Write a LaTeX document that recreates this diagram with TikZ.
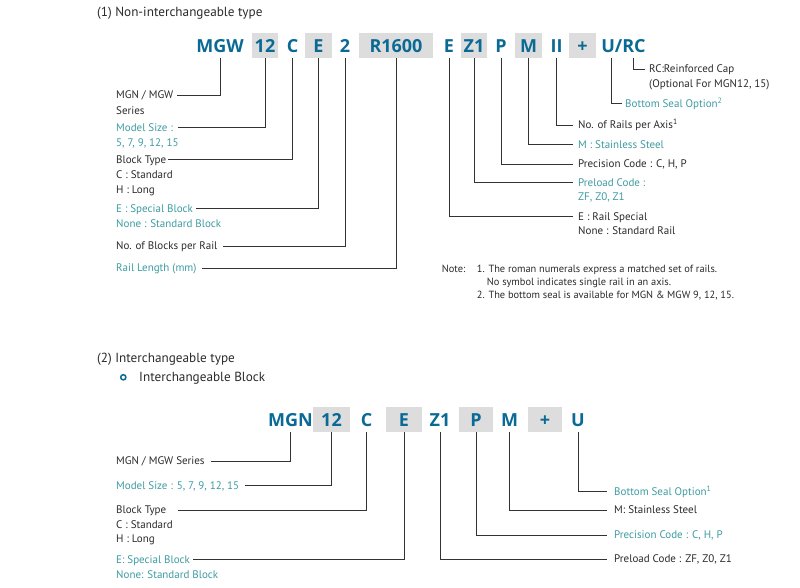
\documentclass[tikz,border=0pt]{standalone}
\usepackage{fontspec}
\setmainfont{PT Sans}
\newfontfamily\codefont{Open Sans}
\definecolor{codeblue}{HTML}{0B6A95}
\definecolor{tealtxt}{HTML}{3E9CA2}
\definecolor{boxgray}{HTML}{DDDDDD}
\definecolor{txt}{HTML}{2B2B2B}
\definecolor{ln}{HTML}{333333}
\tikzset{
  code/.style={inner sep=0pt, minimum height=25pt, text height=13pt, text depth=0pt,
    font=\codefont\fontsize{18}{18}\selectfont\bfseries, text=codeblue, align=center},
  cbox/.style={code, fill=boxgray},
  lbl/.style={anchor=west, inner sep=0pt, text height=7.8pt, text depth=0pt,
    font=\fontsize{11}{13}\selectfont, text=txt},
  tlbl/.style={lbl, text=tealtxt},
  note/.style={lbl, font=\fontsize{10.4}{12}\selectfont},
  head/.style={anchor=west, inner sep=0pt, text height=9.2pt, text depth=0pt,
    font=\fontsize{13.2}{15}\selectfont, text=txt},
  conn/.style={draw=ln, line width=0.8pt},
}
\begin{document}
\begin{tikzpicture}[x=1pt,y=-1pt]
\useasboundingbox (0,0) rectangle (800,587);
\fill[white] (0,0) rectangle (800,587);

% ---------- Section 1 ----------
\node[head] (h1) at (97,12) {(1) Non-interchangeable type};

\node[code] (mgw) at (220,45.5) {MGW};
\node[cbox, minimum width=26pt] (a12) at (265,45.5) {12};
\node[code] (ac) at (292.7,45.5) {C};
\node[cbox, minimum width=27pt] (ae) at (318.5,45.5) {E};
\node[code] (a2) at (345,45.5) {2};
\node[cbox, minimum width=74pt] (ar) at (396,45.5) {R1600};
\node[code] (aer) at (449,45.5) {E};
\node[cbox, minimum width=26pt] (az) at (474,45.5) {Z1};
\node[code] (ap) at (501,45.5) {P};
\node[cbox, minimum width=27pt] (am) at (528.5,45.5) {M};
\node[code] (aii) at (556.7,45.5) {II};
\node[cbox, minimum width=27pt] (aplus) at (582.5,45.5) {+};
\node[code] (aurc) at (623.5,45.5) {U/RC};

% left labels
\node[lbl] (l1a) at (116,95) {MGN / MGW};
\node[lbl] (l1b) at (116,110.7) {Series};
\node[tlbl] (l2a) at (116,127.7) {Model Size :};
\node[tlbl] (l2b) at (116,142.3) {5, 7, 9, 12, 15};
\node[lbl] (l3a) at (116,159.5) {Block Type};
\node[lbl] (l3b) at (116,174.3) {C : Standard};
\node[lbl] (l3c) at (116,189.3) {H : Long};
\node[tlbl] (l4a) at (116,208.5) {E : Special Block};
\node[tlbl] (l4b) at (116,224) {None : Standard Block};
\node[lbl] (l5) at (116,246) {No. of Blocks per Rail};
\node[tlbl] (l6) at (116,268) {Rail Length (mm)};

\draw[conn] (mgw.south) |- ([xshift=3pt]l1a.east);
\draw[conn] (a12.south) |- ([xshift=5pt]l2a.east);
\draw[conn] (ac.south) |- ([xshift=2pt]l3a.east);
\draw[conn] (ae.south) |- ([xshift=3pt]l4a.east);
\draw[conn] (a2.south) |- ([xshift=5pt]l5.east);
\draw[conn] (ar.south) |- ([xshift=5pt]l6.east);

% right labels
\node[lbl] (r1a) at (578,216.7) {E : Rail Special};
\node[lbl] (r1b) at (578,230.7) {None : Standard Rail};
\node[tlbl] (r2a) at (578,182.5) {Preload Code :};
\node[tlbl] (r2b) at (578,196.7) {ZF, Z0, Z1};
\node[lbl] (r3) at (578,164) {Precision Code : C, H, P};
\node[tlbl] (r4) at (578,144.3) {M : Stainless Steel};
\node[lbl] (r5) at (578,125) {No. of Rails per Axis\textsuperscript{1}};
\node[tlbl] (r6) at (625,103.5) {Bottom Seal Option\textsuperscript{2}};
\node[lbl] (r7a) at (649,69) {RC:Reinforced Cap};
\node[lbl] (r7b) at (649,83.3) {(Optional For MGN12, 15)};

\draw[conn] (aer.south) |- ([xshift=-5pt]r1a.west);
\draw[conn] (az.south) |- ([xshift=-5pt]r2a.west);
\draw[conn] (ap.south) |- ([xshift=-5pt]r3.west);
\draw[conn] (am.south) |- ([xshift=-5pt]r4.west);
\draw[conn] (aii.south) |- ([xshift=-5pt]r5.west);
\draw[conn] ([xshift=-12.5pt]aurc.south) |- ([xshift=-3.5pt]r6.west);
\draw[conn] ([xshift=10pt]aurc.south) |- ([xshift=-4pt]r7a.west);

% notes
\node[note] (nt) at (441.7,269) {Note:};
\node[note] (n1) at (476.7,269) {1. The roman numerals express a matched set of rails.};
\node[note] (n1b) at (486.7,281.7) {No symbol indicates single rail in an axis.};
\node[note] (n2) at (476.7,294.3) {2. The bottom seal is available for MGN \& MGW 9, 12, 15.};

% ---------- Section 2 ----------
\node[head] (h2) at (97,358) {(2) Interchangeable type};
\draw[codeblue, line width=1.5pt] (123.3,377.3) circle (2.6pt);
\node[head] (h2b) at (139,377) {Interchangeable Block};

\node[code] (bmgn) at (290.5,419.5) {MGN};
\node[cbox, minimum width=37pt] (b12) at (331.5,419.5) {12};
\node[code] (bc) at (366.7,419.5) {C};
\node[cbox, minimum width=36pt] (be) at (404,419.5) {E};
\node[code] (bz) at (440,419.5) {Z1};
\node[cbox, minimum width=34pt] (bp) at (476,419.5) {P};
\node[code] (bm) at (509.5,419.5) {M};
\node[cbox, minimum width=34pt] (bplus) at (545,419.5) {+};
\node[code] (bu) at (578,419.5) {U};

\node[lbl] (s1) at (116,461) {MGN / MGW Series};
\node[tlbl] (s2) at (116,485.5) {Model Size : 5, 7, 9, 12, 15};
\node[lbl] (s3a) at (116,510) {Block Type};
\node[lbl] (s3b) at (116,524.3) {C : Standard};
\node[lbl] (s3c) at (116,539) {H : Long};
\node[tlbl] (s4a) at (116,559.5) {E: Special Block};
\node[tlbl] (s4b) at (116,575) {None: Standard Block};

\draw[conn] (bmgn.south) |- ([xshift=6pt]s1.east);
\draw[conn] (b12.south) |- ([xshift=6pt]s2.east);
\draw[conn] (bc.south) |- ([xshift=12pt]s3a.east);
\draw[conn] (be.south) |- ([xshift=3pt]s4a.east);

\node[tlbl] (t1) at (614,491.5) {Bottom Seal Option\textsuperscript{1}};
\node[lbl] (t2) at (614,510) {M: Stainless Steel};
\node[tlbl] (t3) at (614,535) {Precision Code : C, H, P};
\node[lbl] (t4) at (614,559) {Preload Code : ZF, Z0, Z1};

\draw[conn] (bu.south) |- ([xshift=-7pt]t1.west);
\draw[conn] (bm.south) |- ([xshift=-7pt]t2.west);
\draw[conn] (bp.south) |- ([xshift=-7pt]t3.west);
\draw[conn] (bz.south) |- ([xshift=-7pt]t4.west);
\end{tikzpicture}
\end{document}
